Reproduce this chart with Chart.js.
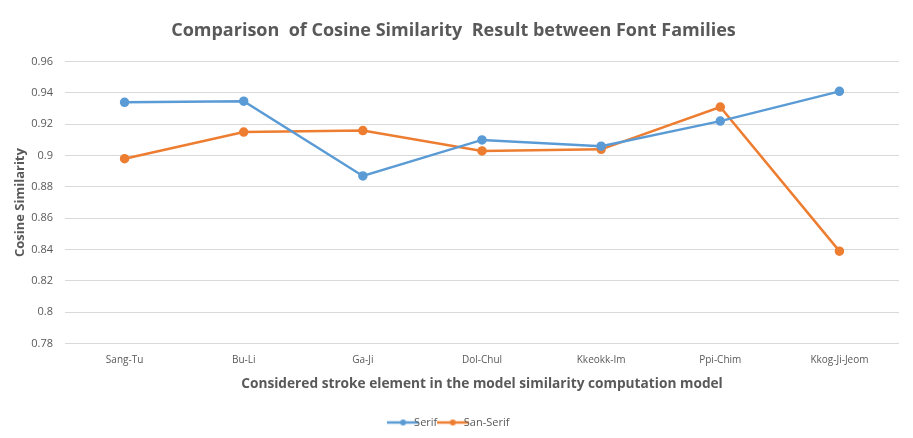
<!DOCTYPE html>
<html>
<head>
<meta charset="utf-8">
<script src="https://cdn.jsdelivr.net/npm/chart.js@4/dist/chart.umd.min.js"></script>
<style>
html,body{margin:0;padding:0;background:#fff;}
#wrap{width:913px;height:438px;position:relative;}
</style>
</head>
<body>
<div id="wrap"><canvas id="c" width="913" height="438"></canvas></div>
<script>
const categories = ["Sang-Tu","Bu-Li","Ga-Ji","Dol-Chul","Kkeokk-Im","Ppi-Chim","Kkog-Ji-Jeom"];
const serif = [0.934, 0.9347, 0.887, 0.910, 0.906, 0.922, 0.941];
const sanSerif = [0.898, 0.915, 0.916, 0.903, 0.904, 0.931, 0.839];
const yTicks = [0.78,0.8,0.82,0.84,0.86,0.88,0.9,0.92,0.94,0.96];
const seriesColors = ['#5b9bd5','#ed7d31'];

function legendIcon(color){
  const cv = document.createElement('canvas');
  cv.width = 32; cv.height = 8;
  const g = cv.getContext('2d');
  g.strokeStyle = color; g.lineWidth = 2.5;
  g.beginPath(); g.moveTo(0,4); g.lineTo(32,4); g.stroke();
  g.fillStyle = color; g.beginPath(); g.arc(16,4,3,0,Math.PI*2); g.fill();
  return cv;
}
const icons = seriesColors.map(legendIcon);

const FONT = "'Open Sans', 'Noto Sans', sans-serif";
new Chart(document.getElementById('c'), {
  type: 'line',
  data: {
    labels: categories,
    datasets: [
      {label:'Serif', data: serif, borderColor:seriesColors[0], backgroundColor:seriesColors[0], borderWidth:2.5, pointRadius:3.5, pointHoverRadius:3.5, tension:0},
      {label:'San-Serif', data: sanSerif, borderColor:seriesColors[1], backgroundColor:seriesColors[1], borderWidth:2.5, pointRadius:3.5, pointHoverRadius:3.5, tension:0}
    ]
  },
  options: {
    responsive:false,
    animation:false,
    layout:{padding:{left:8,right:14,top:4,bottom:0}},
    plugins:{
      title:{display:true,text:'Comparison  of Cosine Similarity  Result between Font Families',color:'#595959',font:{family:FONT,size:18,weight:'bold'},padding:{top:16,bottom:20}},
      legend:{position:'bottom',labels:{color:'#595959',font:{family:FONT,size:11},usePointStyle:true,padding:10,
        generateLabels:(chart)=>chart.data.datasets.map((ds,i)=>({text:ds.label,fillStyle:ds.borderColor,strokeStyle:ds.borderColor,fontColor:'#595959',pointStyle:icons[i],lineWidth:0,hidden:false,datasetIndex:i}))}},
      tooltip:{enabled:false}
    },
    scales:{
      x:{
        offset:true,
        afterFit:(s)=>{s.height = s.height - 2;},
        grid:{display:false,drawTicks:false},
        border:{display:false},
        ticks:{color:'#595959',font:{family:FONT,size:10},padding:11},
        title:{display:true,text:'Considered stroke element in the model similarity computation model',color:'#595959',font:{family:FONT,size:13.7,weight:'bold'},padding:{top:0,bottom:15}}
      },
      y:{
        min:0.78,max:0.96,
        afterFit:(s)=>{s.width = 57;},
        afterBuildTicks:(ax)=>{ax.ticks = yTicks.map(v=>({value:v}));},
        grid:{color:'#d9d9d9',drawTicks:false,lineWidth:1},
        border:{display:false},
        ticks:{color:'#595959',font:{family:FONT,size:11},padding:12,callback:(v)=>String(parseFloat(Number(v).toFixed(2)))},
        title:{display:true,text:'Cosine Similarity',color:'#595959',font:{family:FONT,size:13,weight:'bold'},padding:{top:4,bottom:0}}
      }
    }
  }
});
</script>
</body>
</html>
